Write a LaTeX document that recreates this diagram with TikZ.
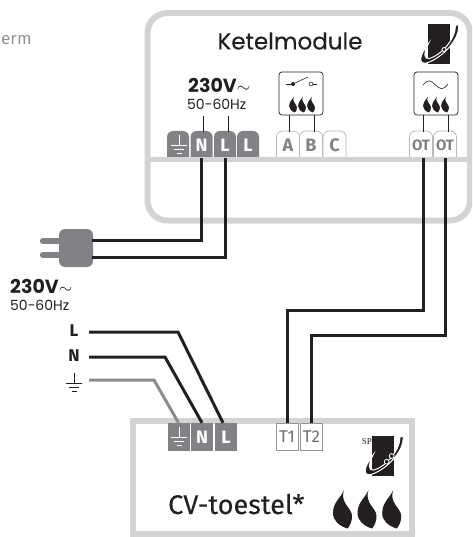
\documentclass[tikz,border=0pt]{standalone}
\usepackage{fontspec}
\setmainfont{Poppins}
\newfontfamily\labelfont{Fira Sans}
\newfontfamily\spfont{Liberation Serif}
\definecolor{framegray}{HTML}{D1D3D4}
\definecolor{termgray}{HTML}{808285}
\definecolor{wiregray}{HTML}{8A8C8E}
\definecolor{inkblack}{HTML}{231F20}
\tikzset{
	wire/.style = {line width = 3pt, color = inkblack, line join = miter},
	lead/.style = {line width = 0.6pt, color = inkblack},
	frameline/.style = {line width = 6pt, color = framegray},
	iconbox/.style = {draw = inkblack, line width = 0.7pt, rounded corners = 3pt, minimum width = 44pt, minimum height = 43pt, inner sep = 0},
	termslot/.style = {minimum width = 22pt, minimum height = 26pt, inner sep = 0, font = \labelfont\bfseries\fontsize{18}{18}\selectfont},
	supply/.style = {anchor = base west, font = \bfseries\fontsize{19}{19}\selectfont, text = inkblack, inner sep = 0},
	freq/.style = {anchor = base west, font = \fontsize{14}{14}\selectfont, text = inkblack, inner sep = 0},
	linelabel/.style = {font = \labelfont\bfseries\fontsize{17}{17}\selectfont, text = inkblack},
	earth/.pic = {
		\draw [line width = 0.9pt] (0, 0) -- (0, 10);
		\draw [line width = 0.9pt] (-8, 10) -- (8, 10);
		\draw [line width = 0.9pt] (-5, 14) -- (5, 14);
		\draw [line width = 0.9pt] (-2.5, 18) -- (2.5, 18);
	},
	flame/.pic = {
		\fill (1.5, -19) .. controls (-1, -12) and (-9.5, -7) .. (-9.5, 4)
			.. controls (-9.5, 12) and (-3, 17) .. (5, 19.5)
			.. controls (8, 16) and (9.5, 12) .. (9.5, 7)
			.. controls (9.5, -1) and (-3, -6) .. (1.5, -19) -- cycle;
	},
	logo/.pic = {
		\fill [inkblack] (-11, -20) rectangle (11, 20);
		\draw [white, fill = inkblack, line width = 1pt] (20, -20) .. controls (22, -5) and (3, 14) .. (-12, 18.5)
			.. controls (-20, 20) and (-20, 12) .. (-10, -1)
			.. controls (-15, 9) and (-15, 15) .. (-9, 14)
			.. controls (2, 11) and (17, -5) .. (17, -19) -- cycle;
	},
	logodot/.style = {draw = white, fill = inkblack, line width = 0.8pt}
}

\begin{document}
\begin{tikzpicture}[x = 1pt, y = -1pt]

	\clip (0, 0) rectangle (472, 537);

	% Text at the top left
	
	\node [anchor = base west, text = gray!85, inner sep = 0, font = \labelfont\fontsize{17}{17}\selectfont] (cutoff) at (1, 45) {erm};

	% Module housing
	
	\draw [frameline, rounded corners = 20pt] (147.5, 13) rectangle (470, 220.5);
	\node [font = \fontsize{23}{23}\selectfont\addfontfeature{FakeBold = 0.4}, text = inkblack] (ketel) at (290, 41) {Ketelmodule};
	\pic at (438.5, 44.5) {logo};
	\draw [logodot] (444, 49.5) circle (2);

	% Terminals of the module
	
	\foreach \name/\cx/\lab in {mn/201.5/N, ml/225/L, mll/248/L, mearth/178/} {
		\fill [termgray, rounded corners = 6pt] (\cx - 11, 158) -- (\cx - 11, 131) -- (\cx + 11, 131) [sharp corners] -- (\cx + 11, 158) -- cycle;
		\node [termslot, text = white] (\name) at (\cx, 145) {\lab};
	}
	\foreach \name/\cx/\lab/\size in {ma/288/A/18, mb/311/B/18, mc/334.5/C/18, ota/421/OT/15, otb/445/OT/15} {
		\draw [framegray!70!gray, line width = 0.8pt, fill = white, rounded corners = 6pt] (\cx - 11.5, 158) -- (\cx - 11.5, 131) -- (\cx + 11.5, 131) [sharp corners] -- (\cx + 11.5, 158);
		\node [termslot, text = termgray, font = \labelfont\bfseries\fontsize{\size}{\size}\selectfont] (\name) at (\cx, 145) {\lab};
	}
	\pic [color = white] at (179, 135) {earth};
	\draw [frameline, line width = 5pt] (147.5, 160) -- (470, 160);

	% Supply label of the module
	
	\node [supply] (msupply) at (188, 93) {230V$\sim$};
	\node [freq] (mfreq) at (187, 110) {50-60Hz};
	\draw [lead] ([xshift = 1.5pt] mn.north) -- ++(0, -16);
	\draw [lead] ([xshift = 3pt] ml.north) -- ++(0, -16);

	% Icon boxes
	
	\node [iconbox] (swbox) at (301, 93.5) {};
	\node [iconbox] (otbox) at (436, 93.5) {};
	\draw [lead] ([xshift = -12pt] swbox.south) -- ([xshift = 1pt] ma.north);
	\draw [lead] ([xshift = 13pt] swbox.south) -- ([xshift = 3pt] mb.north);
	\draw [lead] ([xshift = -13pt] otbox.south) -- ([xshift = 2pt] ota.north);
	\draw [lead] ([xshift = 12pt] otbox.south) -- ([xshift = 3pt] otb.north);
	
	\draw [lead] (286, 84) -- (291, 84);
	\fill [inkblack] (293, 84) circle (2);
	\draw [lead] (293, 84) -- (308, 77);
	\draw [lead] (311, 84) circle (2);
	\draw [lead] (313, 84) -- (317, 84);
	\draw [lead] (423, 85) .. controls (429, 78) and (431, 81) .. (435.5, 85) .. controls (440, 89) and (443, 91) .. (448, 84);
	
	\foreach \cx in {293, 302, 311, 427, 436, 445} {
		\pic [scale = 0.41, color = inkblack] at (\cx, 104.5) {flame};
	}

	% Plug
	
	\draw [line width = 6.5pt, color = termgray, line cap = round] (43, 241) -- (60, 241);
	\draw [line width = 6.5pt, color = termgray, line cap = round] (43, 255) -- (60, 255);
	\node [fill = termgray, rounded corners = 6pt, minimum width = 34pt, minimum height = 38pt, inner sep = 0] (plug) at (76, 248) {};
	\coordinate (plugn) at (92, 240);
	\coordinate (plugl) at (92, 257);
	\node [supply] (psupply) at (10, 293) {230V$\sim$};
	\node [freq] (pfreq) at (10, 310) {50-60Hz};

	% Boiler housing
	
	\draw [frameline] (133, 421) rectangle (412, 534);
	\node [anchor = base west, font = \labelfont\fontsize{27}{27}\selectfont\addfontfeature{FakeBold = 0.2}, text = inkblack, inner sep = 0] (cv) at (168, 514) {CV-toestel*};
	\pic at (383, 456) {logo};
	\draw [logodot] (391.7, 456) circle (2.4);
	\draw [logodot] (386.7, 461.7) circle (2.4);
	\node [anchor = base east, font = \spfont\fontsize{9}{9}\selectfont, text = inkblack, inner sep = 0] (sp) at (372, 444) {SP};
	\foreach \cx in {342.5, 367, 391.7} {
		\pic [color = inkblack] at (\cx, 509) {flame};
	}

	% Terminals of the boiler
	
	\foreach \name/\cx/\lab in {bearth/178.5/, bn/202/N, bl/226/L} {
		\node [termslot, minimum height = 28pt, fill = termgray, text = white] (\name) at (\cx, 437) {\lab};
	}
	\pic [color = white] at (179, 427) {earth};
	\foreach \name/\cx/\lab in {ta/287/T1, tb/311.5/T2} {
		\node [termslot, draw = termgray!85, line width = 1pt, minimum height = 27pt, text = termgray!85!black, font = \labelfont\fontsize{17}{17}\selectfont] (\name) at (\cx, 437) {\lab};
	}

	% Mains labels
	
	\node [linelabel] (linel) at (74, 331) {L};
	\node [linelabel] (linen) at (74, 356) {N};
	\coordinate (lineearth) at (74, 373);
	\pic [color = inkblack] at (lineearth) {earth};

	% Wires
	
	\coordinate (linelend) at (89, 332);
	\coordinate (linenend) at (89, 357);
	\coordinate (lineearthend) at (89, 380);
	\draw [wire] (mn.south) |- (plugn);
	\draw [wire] (ml.south) |- (plugl);
	\draw [wire] ([xshift = 2pt] ota.south) -- (423, 310) -| (ta.north);
	\draw [wire] (otb.south) -- (445, 335) -| (tb.north);
	\draw [wire] (linelend) -- (178, 332) -- ([xshift = -3pt] bl.north);
	\draw [wire] (linenend) -- (165, 357) -- (bn.north);
	\draw [wire, color = wiregray] (lineearthend) -- (154, 380) -- (bearth.north);

\end{tikzpicture}
\end{document}
